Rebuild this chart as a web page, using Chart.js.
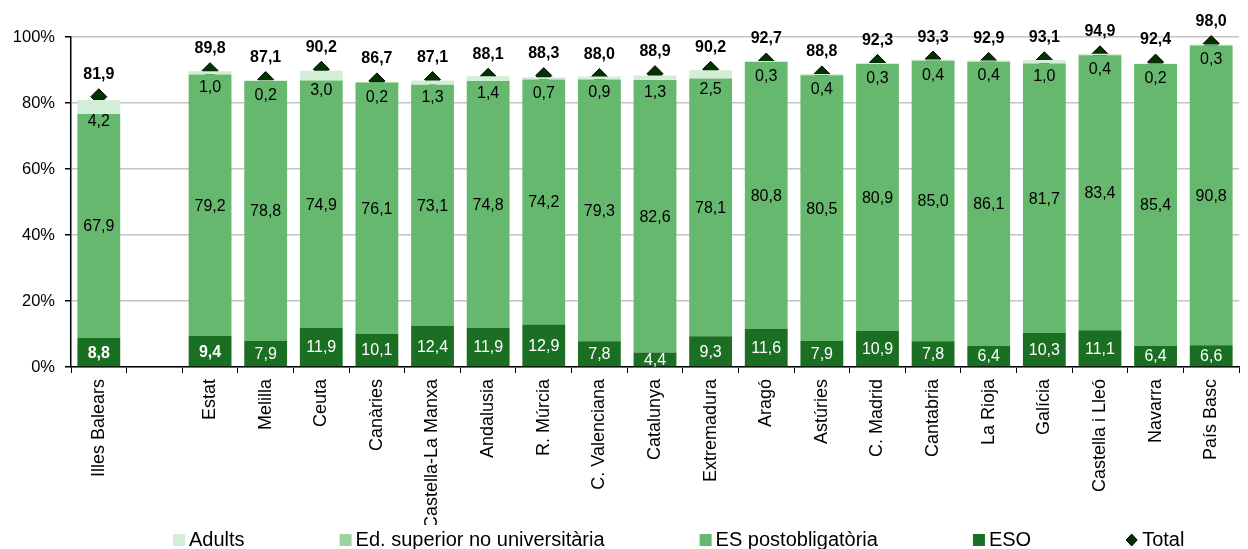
<!DOCTYPE html>
<html>
<head>
<meta charset="utf-8">
<script src="https://cdn.jsdelivr.net/npm/chart.js@4.4.1/dist/chart.umd.min.js"></script>
<style>
  html, body { margin: 0; padding: 0; background: #fff; }
  #wrap { width: 1248px; height: 549px; }
</style>
</head>
<body>
<div id="wrap"><canvas id="chart" width="1248" height="549"></canvas></div>
<script>
// dades
const categories = ['Illes Balears', '', 'Estat', 'Melilla', 'Ceuta', 'Canàries', 'Castella-La Manxa',
  'Andalusia', 'R. Múrcia', 'C. Valenciana', 'Catalunya', 'Extremadura', 'Aragó', 'Astúries',
  'C. Madrid', 'Cantabria', 'La Rioja', 'Galícia', 'Castella i Lleó', 'Navarra', 'País Basc'];
const eso = [8.8, null, 9.4, 7.9, 11.9, 10.1, 12.4, 11.9, 12.9, 7.8, 4.4, 9.3, 11.6, 7.9, 10.9, 7.8, 6.4, 10.3, 11.1, 6.4, 6.6];
const esPostobligatoria = [67.9, null, 79.2, 78.8, 74.9, 76.1, 73.1, 74.8, 74.2, 79.3, 82.6, 78.1, 80.8, 80.5, 80.9, 85.0, 86.1, 81.7, 83.4, 85.4, 90.8];
const adults = [4.2, null, 1.0, 0.2, 3.0, 0.2, 1.3, 1.4, 0.7, 0.9, 1.3, 2.5, 0.3, 0.4, 0.3, 0.4, 0.4, 1.0, 0.4, 0.2, 0.3];
const edSuperior = []; // no es veu cap segment al gràfic
const total = [81.9, null, 89.8, 87.1, 90.2, 86.7, 87.1, 88.1, 88.3, 88.0, 88.9, 90.2, 92.7, 88.8, 92.3, 93.3, 92.9, 93.1, 94.9, 92.4, 98.0];
const yTicks = [0, 20, 40, 60, 80, 100];

const FONT = "'Liberation Sans', Arial, sans-serif";
const boldEso = ['Illes Balears', 'Estat'];
const fmt = v => v.toFixed(1).replace('.', ',');

// etiquetes de valors
const valueLabels = {
  id: 'valueLabels',
  afterDatasetsDraw(chart) {
    const ctx = chart.ctx;
    ctx.save();
    ctx.textAlign = 'center';
    ctx.textBaseline = 'middle';
    const mEso = chart.getDatasetMeta(0).data;
    const mEs = chart.getDatasetMeta(1).data;
    const mAd = chart.getDatasetMeta(3).data;
    const mTot = chart.getDatasetMeta(4).data;
    categories.forEach((cat, i) => {
      if (eso[i] == null) return;
      let el = mEso[i];
      ctx.fillStyle = '#fff';
      ctx.font = (boldEso.includes(cat) ? 'bold ' : '') + '16px ' + FONT;
      ctx.fillText(fmt(eso[i]), el.x, (el.y + el.base) / 2 + 1);

      el = mEs[i];
      ctx.fillStyle = '#000';
      ctx.font = '16px ' + FONT;
      ctx.fillText(fmt(esPostobligatoria[i]), el.x, (el.y + el.base) / 2 + 1);

      el = mAd[i];
      ctx.fillText(fmt(adults[i]), el.x, (el.y + el.base) / 2 + 15);

      const p = mTot[i];
      ctx.font = 'bold 16px ' + FONT;
      ctx.fillText(fmt(total[i]), p.x, p.y - 22);
    });
    ctx.restore();
  }
};

// llegenda
const bottomLegend = {
  id: 'bottomLegend',
  afterDraw(chart) {
    const ctx = chart.ctx;
    const order = [3, 2, 1, 0, 4];
    const y = 540;
    let x = 173;
    ctx.save();
    ctx.font = '20px ' + FONT;
    ctx.textBaseline = 'middle';
    ctx.textAlign = 'left';
    order.forEach(idx => {
      const ds = chart.data.datasets[idx];
      if (ds.type === 'line') {
        ctx.beginPath();
        ctx.moveTo(x + 5.5, y - 6);
        ctx.lineTo(x + 11, y);
        ctx.lineTo(x + 5.5, y + 6);
        ctx.lineTo(x, y);
        ctx.closePath();
        ctx.fillStyle = ds.backgroundColor;
        ctx.fill();
        ctx.strokeStyle = '#000';
        ctx.lineWidth = 1;
        ctx.stroke();
      } else {
        ctx.fillStyle = ds.backgroundColor;
        ctx.fillRect(x, y - 6, 12, 12);
      }
      ctx.fillStyle = '#000';
      ctx.fillText(ds.label, x + 16, y);
      x += 16 + ctx.measureText(ds.label).width + 95;
    });
    ctx.restore();
  }
};

new Chart(document.getElementById('chart'), {
  type: 'bar',
  data: {
    labels: categories,
    datasets: [
      { label: 'ESO', data: eso, backgroundColor: '#1b6f22', stack: 'bars' },
      { label: 'ES postobligatòria', data: esPostobligatoria, backgroundColor: '#66b86e', stack: 'bars' },
      { label: 'Ed. superior no universitària', data: edSuperior, backgroundColor: '#9dd3a1', stack: 'bars' },
      { label: 'Adults', data: adults, backgroundColor: '#d4edd6', stack: 'bars' },
      {
        label: 'Total', type: 'line', data: total, stack: 'total',
        showLine: false, pointStyle: 'rectRot', pointRadius: 8, pointHoverRadius: 8,
        backgroundColor: '#003300', borderColor: '#000', borderWidth: 1, clip: false
      }
    ]
  },
  options: {
    responsive: false,
    devicePixelRatio: 1,
    animation: false,
    layout: { padding: { top: 37, right: 3, bottom: 24, left: 0 } },
    datasets: { bar: { barPercentage: 0.77, categoryPercentage: 1 } },
    plugins: {
      legend: { display: false },
      tooltip: { enabled: false },
      title: { display: false }
    },
    scales: {
      x: {
        stacked: true,
        afterFit: s => { s.height = 158; },
        border: { color: '#000', width: 1.5 },
        grid: { offset: true, drawOnChartArea: false, drawTicks: true, tickLength: 6, color: '#000' },
        ticks: {
          color: '#000', font: { family: FONT, size: 18 },
          maxRotation: 90, minRotation: 90, autoSkip: false, padding: 6
        }
      },
      y: {
        stacked: true,
        min: 0, max: 100,
        afterFit: s => { s.width = 71; },
        afterBuildTicks: s => { s.ticks = yTicks.map(v => ({ value: v })); },
        border: { color: '#000', width: 1.5 },
        grid: { color: '#c4c4c4', lineWidth: 1.5, tickColor: '#000', tickLength: 6 },
        ticks: {
          color: '#000', font: { family: FONT, size: 16.5 }, padding: 10,
          callback: v => v + '%'
        }
      }
    }
  },
  plugins: [valueLabels, bottomLegend]
});
</script>
</body>
</html>
